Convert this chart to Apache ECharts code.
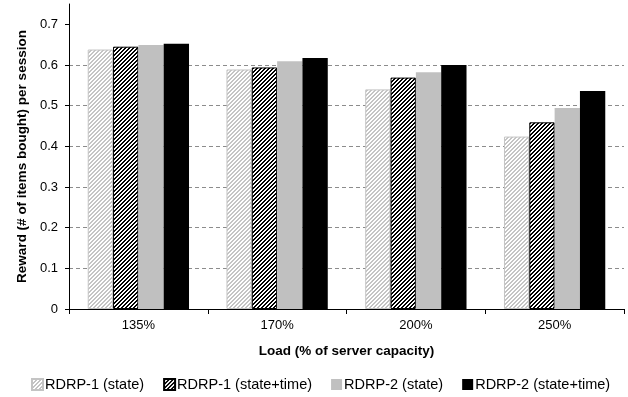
<!DOCTYPE html>
<html>
<head>
<meta charset="utf-8">
<script src="https://cdn.jsdelivr.net/npm/echarts@6/dist/echarts.min.js"></script>
<style>
html,body{margin:0;padding:0;background:#fff;}
#chart{width:628px;height:397px;}
</style>
</head>
<body>
<div id="chart"></div>
<script>
const categories = ['135%', '170%', '200%', '250%'];
const seriesNames = ['RDRP-1 (state)', 'RDRP-1 (state+time)', 'RDRP-2 (state)', 'RDRP-2 (state+time)'];
const rdrp1State = [0.638, 0.589, 0.540, 0.424];
const rdrp1StateTime = [0.645, 0.594, 0.569, 0.459];
const rdrp2State = [0.649, 0.609, 0.582, 0.494];
const rdrp2StateTime = [0.652, 0.617, 0.600, 0.536];
const yTicks = [0, 0.1, 0.2, 0.3, 0.4, 0.5, 0.6, 0.7];

function makePattern(fg, bg) {
  const c = document.createElement('canvas');
  c.width = 4; c.height = 4;
  const ctx = c.getContext('2d');
  ctx.fillStyle = bg; ctx.fillRect(0, 0, 4, 4);
  ctx.fillStyle = fg;
  for (let x = 0; x < 4; x++) for (let y = 0; y < 4; y++) {
    if ((x + y) % 4 < 2) ctx.fillRect(x, y, 1, 1);
  }
  return c;
}

const FONT = "'Liberation Sans', Arial, sans-serif";
const chart = echarts.init(document.getElementById('chart'), null, {renderer: 'canvas'});

const styles = [
  {color: {image: makePattern('#c4c4c4', '#ffffff'), repeat: 'repeat'}, borderColor: '#c4c4c4', borderWidth: 1},
  {color: {image: makePattern('#000000', '#ffffff'), repeat: 'repeat'}, borderColor: '#000000', borderWidth: 1},
  {color: '#c0c0c0'},
  {color: '#000000'}
];
const datasets = [rdrp1State, rdrp1StateTime, rdrp2State, rdrp2StateTime];

chart.setOption({
  animation: false,
  backgroundColor: '#fff',
  textStyle: {fontFamily: FONT},
  grid: {left: 69, right: 4, top: 4, bottom: 88, containLabel: false},
  legend: {
    left: 26, top: 372,
    itemWidth: 11, itemHeight: 11, itemGap: 19,
    icon: 'rect',
    textStyle: {fontFamily: FONT, fontSize: 14.5, color: '#000', padding: [0, 0, 0, -3]},
    data: seriesNames
  },
  xAxis: {
    type: 'category',
    data: categories,
    name: 'Load (% of server capacity)',
    nameLocation: 'middle',
    nameGap: 35,
    nameTextStyle: {fontFamily: FONT, fontSize: 13.5, fontWeight: 'bold', color: '#000'},
    axisLine: {lineStyle: {color: '#000', width: 1}},
    axisTick: {show: true, length: 5, lineStyle: {color: '#000'}},
    axisLabel: {fontFamily: FONT, fontSize: 13, color: '#000', margin: 10},
    splitLine: {show: false}
  },
  yAxis: {
    type: 'value',
    min: 0, max: 0.75, interval: 0.1,
    name: 'Reward (# of items bought) per session',
    nameLocation: 'middle',
    nameGap: 40,
    nameTextStyle: {fontFamily: FONT, fontSize: 13.5, fontWeight: 'bold', color: '#000'},
    axisLine: {show: true, lineStyle: {color: '#000', width: 1}},
    axisTick: {show: true, length: 4, lineStyle: {color: '#000'}, customValues: yTicks},
    axisLabel: {
      fontFamily: FONT, fontSize: 13, color: '#000', margin: 11,
      customValues: yTicks,
      formatter: v => String(+v.toFixed(1))
    },
    splitLine: {show: true, showMaxLine: false, lineStyle: {color: '#8c8c8c', type: [4, 3], width: 1}}
  },
  series: datasets.map((d, i) => ({
    name: seriesNames[i],
    type: 'bar',
    data: d,
    barGap: '0%',
    barCategoryGap: '27%',
    itemStyle: styles[i]
  }))
});
</script>
</body>
</html>
